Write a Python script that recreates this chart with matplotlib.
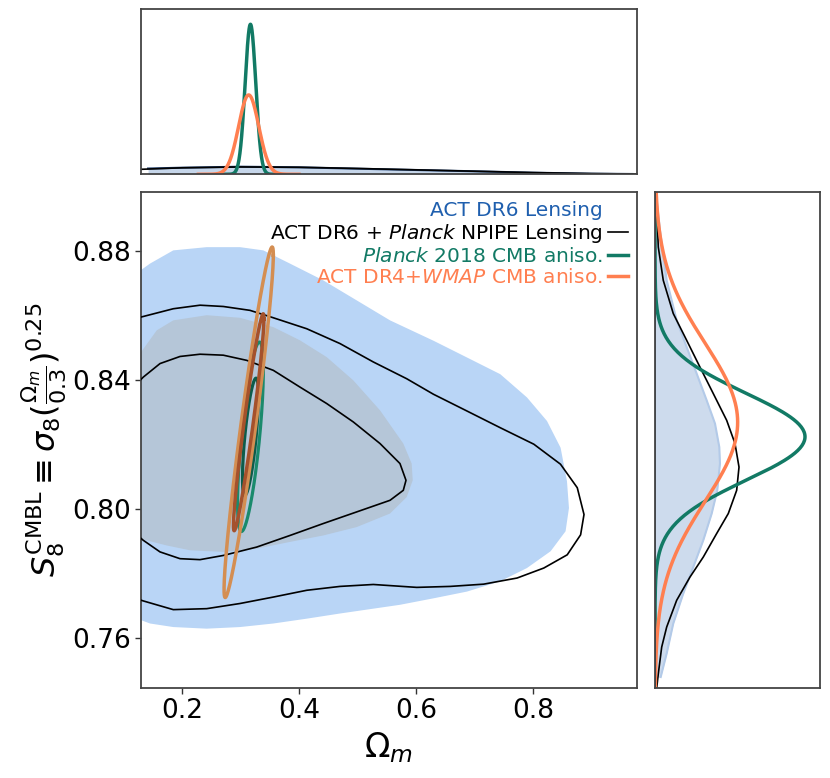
import numpy as np
import matplotlib
matplotlib.use("Agg")
import matplotlib.pyplot as plt
from matplotlib.lines import Line2D

# --- ACT DR6 lensing contours (Omega_m, S8) ---
dr6_95_om = [0.094, 0.1453, 0.1851, 0.2422, 0.2991, 0.3390, 0.3846, 0.4415, 0.4986, 0.5556,
             0.6297, 0.6870, 0.7441, 0.7897, 0.8239, 0.8472, 0.8581, 0.8615, 0.8557, 0.8301,
             0.7897, 0.7441, 0.6872, 0.6297, 0.5726, 0.5270, 0.4701, 0.4132, 0.3561, 0.2991,
             0.2422, 0.1851, 0.1453, 0.094, 0.0684]
dr6_95_s8 = [0.8695, 0.8762, 0.8803, 0.8813, 0.8813, 0.8803, 0.8762, 0.8710, 0.8648, 0.8586,
             0.8523, 0.8471, 0.8419, 0.8347, 0.8274, 0.8191, 0.8087, 0.8004, 0.7932, 0.7870,
             0.7818, 0.7777, 0.7745, 0.7724, 0.7704, 0.7692, 0.7677, 0.7661, 0.7646, 0.7635,
             0.7630, 0.7635, 0.7646, 0.7681, 0.8183]
dr6_68_om = [0.0769, 0.1111, 0.1282, 0.1568, 0.1851, 0.2422, 0.2991, 0.3561, 0.4017, 0.4474,
             0.4928, 0.5385, 0.5783, 0.5926, 0.5944, 0.5841, 0.5556, 0.4986, 0.4415, 0.3846,
             0.3277, 0.2706, 0.2137, 0.1738, 0.1282, 0.1026]
dr6_68_s8 = [0.8183, 0.8431, 0.8483, 0.8555, 0.8586, 0.8602, 0.8594, 0.8565, 0.8524, 0.8472,
             0.8400, 0.8307, 0.8204, 0.8142, 0.8090, 0.8038, 0.7987, 0.7945, 0.7919, 0.7899,
             0.7878, 0.7868, 0.7873, 0.7888, 0.7909, 0.7966]

# --- ACT DR6 + Planck NPIPE lensing contours ---
comb_95_om = [0.094, 0.1338, 0.1851, 0.2308, 0.2706, 0.3162, 0.3561, 0.4132, 0.4701, 0.5270,
              0.5841, 0.6297, 0.6870, 0.7441, 0.8014, 0.8470, 0.8757, 0.8872, 0.8814, 0.8585,
              0.8185, 0.7728, 0.7156, 0.6585, 0.6012, 0.5270, 0.4701, 0.4132, 0.3561, 0.2991,
              0.2422, 0.1851, 0.1338, 0.094, 0.068, 0.094]
comb_95_s8 = [0.8580, 0.8598, 0.8622, 0.8633, 0.8629, 0.8617, 0.8594, 0.8560, 0.8514, 0.8457,
              0.8405, 0.8357, 0.8305, 0.8253, 0.8202, 0.8140, 0.8067, 0.7984, 0.7921, 0.7859,
              0.7818, 0.7787, 0.7768, 0.7761, 0.7758, 0.7767, 0.7761, 0.7749, 0.7728, 0.7708,
              0.7692, 0.7689, 0.7716, 0.7740, 0.8150, 0.8580]
comb_68_om = [0.1026, 0.1338, 0.1624, 0.1966, 0.2308, 0.2706, 0.3106, 0.3561, 0.4017, 0.4474,
              0.4928, 0.5385, 0.5726, 0.5829, 0.5783, 0.5556, 0.4986, 0.4415, 0.3846, 0.3277,
              0.2706, 0.2308, 0.1966, 0.1624, 0.1338, 0.094, 0.0769, 0.1026]
comb_68_s8 = [0.8353, 0.8410, 0.8452, 0.8474, 0.8481, 0.8478, 0.8462, 0.8431, 0.8379, 0.8328,
              0.8271, 0.8204, 0.8142, 0.8090, 0.8059, 0.8028, 0.7992, 0.7956, 0.7919, 0.7883,
              0.7857, 0.7844, 0.7847, 0.7868, 0.7904, 0.7966, 0.8152, 0.8353]

# --- 1D marginals of the lensing runs ---
dr6_om_x = [0.142, 0.2, 0.3, 0.4, 0.5, 0.6, 0.7, 0.8, 0.9, 0.97]
dr6_om_p = [1.69, 1.93, 2.22, 2.04, 1.64, 1.26, 0.88, 0.47, 0.18, 0.09]
comb_om_x = [0.13, 0.2, 0.3, 0.4, 0.5, 0.6, 0.7, 0.8, 0.9, 0.98]
comb_om_p = [1.46, 1.90, 2.15, 2.05, 1.70, 1.30, 0.90, 0.50, 0.20, 0.08]

dr6_s8_y = [0.8979, 0.8865, 0.8710, 0.8586, 0.8503, 0.8421, 0.8338, 0.8266, 0.8193, 0.8142,
            0.8059, 0.7987, 0.7904, 0.7821, 0.7739, 0.7646, 0.7553, 0.7480]
dr6_s8_p = [0.20, 0.98, 2.30, 4.27, 6.24, 8.21, 10.18, 11.82, 12.67, 12.80,
            12.27, 11.17, 9.51, 7.54, 5.57, 3.60, 2.30, 1.12]
comb_s8_y = [0.8979, 0.8813, 0.8710, 0.8607, 0.8524, 0.8441, 0.8359, 0.8276, 0.8204, 0.8131,
             0.8059, 0.7987, 0.7925, 0.7852, 0.7790, 0.7718, 0.7635, 0.7573, 0.7490, 0.7445]
comb_s8_p = [0.20, 0.65, 1.63, 3.60, 6.24, 8.86, 11.48, 14.12, 15.76, 16.55,
             16.09, 14.44, 12.15, 9.51, 6.89, 4.27, 2.30, 1.32, 0.65, 0.33]

# --- CMB anisotropy posteriors (Gaussian summaries): mean, sigma, correlation ---
planck_om, planck_om_sig = 0.317, 0.009
planck_s8, planck_s8_sig = 0.8225, 0.012
planck_rho = 0.70
planck_1d_sig = [0.0091, 0.0135]   # marginal widths (Omega_m, S8)

actdr4_om, actdr4_om_sig = 0.314, 0.0172
actdr4_s8, actdr4_s8_sig = 0.827, 0.0222
actdr4_rho = 0.953
actdr4_1d_sig = [0.0172, 0.0245]

levels_k = [1.515, 2.448]  # 68% and 95% for 2 parameters

labels = ["ACT DR6 Lensing",
          r"ACT DR6 + $\mathit{Planck}$ NPIPE Lensing",
          r"$\mathit{Planck}$ 2018 CMB aniso.",
          r"ACT DR4$+\mathit{WMAP}$ CMB aniso."]

c_blue_txt = "#1f5fae"
c_green = "#127a65"
c_orange = "#ff7f50"


def ellipse(mx, sx, my, sy, rho, k):
    t = np.linspace(0, 2 * np.pi, 400)
    cov = np.array([[sx ** 2, rho * sx * sy], [rho * sx * sy, sy ** 2]])
    L = np.linalg.cholesky(cov)
    xy = L @ np.vstack([np.cos(t), np.sin(t)]) * k
    return mx + xy[0], my + xy[1]


def gauss(x, m, s):
    return np.exp(-0.5 * ((x - m) / s) ** 2) / (s * np.sqrt(2 * np.pi))


fig = plt.figure(figsize=(8.3, 7.78), dpi=100)
ax = fig.add_axes([141 / 830, 90 / 778, 496 / 830, 496 / 778])
axt = fig.add_axes([141 / 830, 603.7 / 778, 496 / 830, 165 / 778])
axr = fig.add_axes([655 / 830, 90 / 778, 165 / 830, 496 / 778])

xlim = (0.1299, 0.9778)
ylim = (0.7446, 0.8984)

# main panel
ax.fill(dr6_95_om, dr6_95_s8, color="#b9d5f6", lw=0, zorder=1)
ax.fill(dr6_68_om, dr6_68_s8, color="#b5c6d8", lw=0, zorder=2)
ax.plot(comb_95_om, comb_95_s8, color="k", lw=1.2, zorder=3)
ax.plot(comb_68_om, comb_68_s8, color="k", lw=1.2, zorder=3)

gx, gy = ellipse(planck_om, planck_om_sig, planck_s8, planck_s8_sig, planck_rho, levels_k[1])
ax.plot(gx, gy, color="#1a8a6c", lw=2.3, zorder=4)
gx, gy = ellipse(planck_om, planck_om_sig, planck_s8, planck_s8_sig, planck_rho, levels_k[0])
ax.plot(gx, gy, color="#0d5c4a", lw=2.3, zorder=4)
ox, oy = ellipse(actdr4_om, actdr4_om_sig, actdr4_s8, actdr4_s8_sig, actdr4_rho, levels_k[1])
ax.plot(ox, oy, color="#d48e52", lw=2.5, zorder=5)
ox, oy = ellipse(actdr4_om, actdr4_om_sig, actdr4_s8, actdr4_s8_sig, actdr4_rho, levels_k[0])
ax.plot(ox, oy, color="#a5512c", lw=2.5, zorder=5)

ax.set_xlim(xlim)
ax.set_ylim(ylim)
ax.set_xticks([0.2, 0.4, 0.6, 0.8])
ax.set_yticks([0.76, 0.80, 0.84, 0.88])
ax.set_yticklabels(["0.76", "0.80", "0.84", "0.88"])
ax.tick_params(labelsize=19, length=4, width=1, color="#333333")
ax.set_xlabel(r"$\Omega_m$", fontsize=24)
ax.set_ylabel(r"$S_8^{\mathrm{CMBL}}\equiv\sigma_8(\frac{\Omega_m}{0.3})^{0.25}$", fontsize=23,
              labelpad=2)

handles = [Line2D([], [], color="none"),
           Line2D([], [], color="k", lw=1.2),
           Line2D([], [], color=c_green, lw=2.5),
           Line2D([], [], color=c_orange, lw=2.5)]
ax.legend(handles, labels, loc="upper right", frameon=False, markerfirst=False,
          fontsize=14.5, handlelength=1.0, handletextpad=0.25, labelspacing=0.1,
          borderaxespad=0.0, borderpad=0.45,
          labelcolor=[c_blue_txt, "k", c_green, c_orange])

# top panel: Omega_m marginals
axt.fill_between(dr6_om_x, 0, dr6_om_p, color="#c6d6ea", lw=0)
axt.plot(dr6_om_x, dr6_om_p, color="#1f3f6e", lw=1.5)
axt.plot(comb_om_x, comb_om_p, color="k", lw=1.2)
xg = np.linspace(planck_om - 5 * planck_1d_sig[0], planck_om + 5 * planck_1d_sig[0], 300)
axt.plot(xg, gauss(xg, planck_om, planck_1d_sig[0]), color=c_green, lw=2.5)
xo = np.linspace(actdr4_om - 5 * actdr4_1d_sig[0], actdr4_om + 5 * actdr4_1d_sig[0], 300)
axt.plot(xo, gauss(xo, actdr4_om, actdr4_1d_sig[0]), color=c_orange, lw=2.5)
axt.set_xlim(xlim)
axt.set_ylim(0, 1.1 * gauss(planck_om, planck_om, planck_1d_sig[0]))
axt.set_xticks([])
axt.set_yticks([])

# right panel: S8 marginals
axr.fill_betweenx(dr6_s8_y, 0, dr6_s8_p, color="#cddbed", lw=0)
axr.plot(dr6_s8_p, dr6_s8_y, color="#b3cae8", lw=1.5)
axr.plot(comb_s8_p, comb_s8_y, color="k", lw=1.2)
yy = np.linspace(ylim[0], ylim[1], 400)
axr.plot(gauss(yy, planck_s8, planck_1d_sig[1]), yy, color=c_green, lw=2.5)
axr.plot(gauss(yy, actdr4_s8, actdr4_1d_sig[1]), yy, color=c_orange, lw=2.5)
axr.axvline(0, color="#1f3f6e", lw=1.2)
axr.set_ylim(ylim)
axr.set_xlim(0, 1.1 * gauss(planck_s8, planck_s8, planck_1d_sig[1]))
axr.set_xticks([])
axr.set_yticks([])

for a in (ax, axt, axr):
    for s in a.spines.values():
        s.set_color("#444444")
        s.set_linewidth(1.3)

fig.savefig("out.png", dpi=100)
